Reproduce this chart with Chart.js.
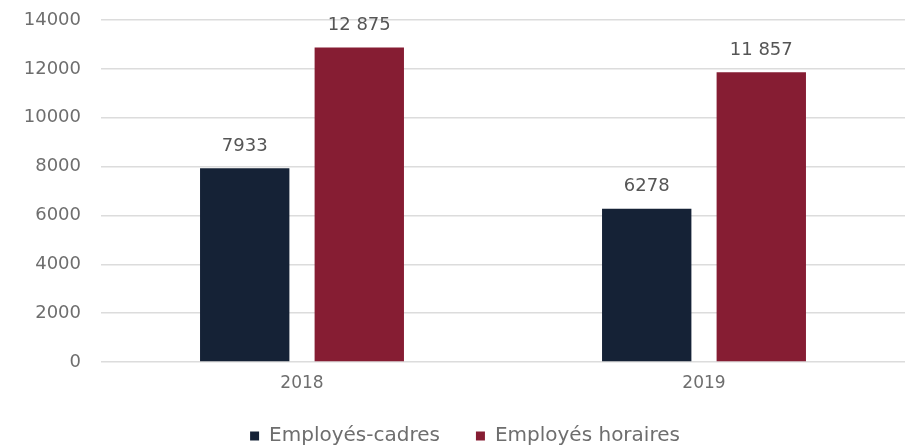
<!DOCTYPE html>
<html>
<head>
<meta charset="utf-8">
<script src="https://cdn.jsdelivr.net/npm/chart.js@4"></script>
<style>
  html, body { margin: 0; padding: 0; background: #fff; overflow: hidden; }
</style>
</head>
<body>
<canvas id="myChart" width="905" height="448"></canvas>
<script>
const ctx = document.getElementById("myChart");

const years = ["2018", "2019"];
const cadres = [7933, 6278];
const horaires = [12875, 11857];
const seriesNames = ["Employés-cadres", "Employés horaires"];

const FONT = "'DejaVu Sans', sans-serif";

// 12 875 but 7933 (french style, space only from 5 digits)
const fmt = (v) =>
  v >= 10000 ? String(v).replace(/\B(?=(\d{3})+$)/g, " ") : String(v);

const valueLabels = {
  id: "valueLabels",
  afterDatasetsDraw(chart) {
    const c = chart.ctx;
    c.save();
    c.font = "18px " + FONT;
    c.fillStyle = "#555555";
    c.textAlign = "center";
    c.textBaseline = "middle";
    chart.data.datasets.forEach((ds, i) => {
      chart.getDatasetMeta(i).data.forEach((bar, j) => {
        c.fillText(fmt(ds.data[j]), bar.x, bar.y - 22);
      });
    });
    c.restore();
  },
};

const myChart = new Chart(ctx, {
  type: "bar",
  data: {
    labels: years,
    datasets: [
      {
        label: seriesNames[0],
        data: cadres,
        backgroundColor: "#152236",
        categoryPercentage: 0.57,
        barPercentage: 0.78,
      },
      {
        label: seriesNames[1],
        data: horaires,
        backgroundColor: "#861d33",
        categoryPercentage: 0.57,
        barPercentage: 0.78,
      },
    ],
  },
  options: {
    responsive: false,
    animation: false,
    layout: {
      padding: { top: 20, left: 25, right: 0, bottom: -8 },
    },
    scales: {
      x: {
        grid: { display: false, drawTicks: false },
        border: { display: false },
        ticks: {
          padding: 11,
          color: "#6e6e6e",
          font: { family: FONT, size: 17 },
        },
        afterFit: (s) => {
          s.height = 28;
        },
      },
      y: {
        min: 0,
        max: 14000,
        ticks: {
          stepSize: 2000,
          padding: 20,
          color: "#6e6e6e",
          font: { family: FONT, size: 18 },
          callback: (v) => String(v),
        },
        grid: { color: "#dcdcdc", lineWidth: 1.5, drawTicks: false },
        border: { display: false },
        afterFit: (s) => {
          s.width = 76;
          s.paddingTop = 10;
          s.paddingBottom = 0;
        },
      },
    },
    plugins: {
      legend: {
        position: "bottom",
        labels: {
          boxWidth: 9,
          boxHeight: 9,
          padding: 36,
          color: "#6e6e6e",
          font: { family: FONT, size: 20 },
        },
      },
      tooltip: { enabled: false },
    },
  },
  plugins: [valueLabels],
});
</script>
</body>
</html>
